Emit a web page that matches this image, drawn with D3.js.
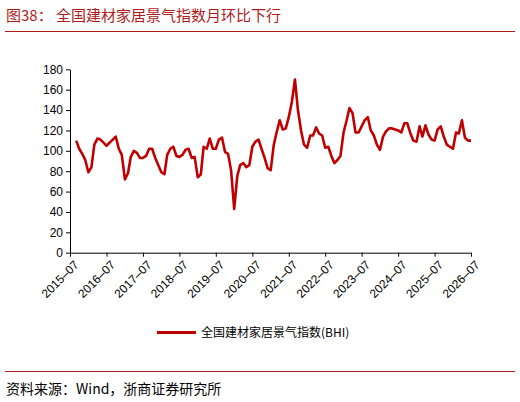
<!DOCTYPE html>
<html>
<head>
<meta charset="utf-8">
<script src="https://cdn.jsdelivr.net/npm/d3@7"></script>
<style>
  body { margin: 0; background: #fff; }
  svg { font-family: "Liberation Sans", Arial, sans-serif; }
</style>
</head>
<body>
<div id="chart"></div>
<script>
// monthly index, 2015-09 .. 2026-07
const startMonth = '2015-09';
const bhiValues = [
  110, 102, 97, 91, 79, 84, 106, 112, 111, 108, 105, 108, 111, 114, 102, 96, 72, 78, 94, 100,
  98, 93, 93, 95, 102, 102, 93, 86, 79, 77, 96, 102, 104, 95, 94, 96, 101, 102, 93, 94,
  74, 77, 104, 102, 112, 102, 102, 111, 113, 99, 97, 81, 43, 75, 86, 88, 84, 86, 104, 109,
  111, 102, 93, 83, 81, 106, 118, 130, 121, 122, 133, 148, 170, 140, 120, 106, 103, 115, 115, 123,
  117, 115, 103, 104, 95, 88, 91, 95, 118, 130, 142, 137, 118, 118, 124, 130, 133, 120, 115, 106,
  101, 114, 119, 122, 122, 121, 120, 118, 127, 127, 117, 110, 109, 124, 114, 125, 116, 111, 110, 121,
  124, 114, 106, 104, 102, 118, 117, 130, 113, 110, 110
];
const yTicks = [0, 20, 40, 60, 80, 100, 120, 140, 160, 180];
const xTickLabels = ['2015-07', '2016-07', '2017-07', '2018-07', '2019-07', '2020-07',
  '2021-07', '2022-07', '2023-07', '2024-07', '2025-07', '2026-07'];
const legendLabel = '全国建材家居景气指数(BHI)';

const parseMonth = d3.timeParse('%Y-%m');
const t0 = parseMonth(startMonth);
const series = bhiValues.map((v, i) => ({ date: d3.timeMonth.offset(t0, i), value: v }));

const svg = d3.select('#chart').append('svg').attr('width', 520).attr('height', 402);
const cjk = '"Noto Sans CJK SC", serif';

// title
svg.append('text').attr('x', 6).attr('y', 21)
  .attr('font-family', cjk).attr('font-size', 15).attr('fill', '#b01c1c')
  .text('图38：  全国建材家居景气指数月环比下行');
svg.append('line').attr('x1', 5).attr('x2', 515).attr('y1', 31.5).attr('y2', 31.5)
  .attr('stroke', '#b01c1c').attr('stroke-width', 1);

const x = d3.scaleTime()
  .domain([parseMonth(xTickLabels[0]), parseMonth(xTickLabels[xTickLabels.length - 1])])
  .range([70, 471]);
const y = d3.scaleLinear().domain([0, 180]).range([252.7, 69.3]);

// y axis
const yAxis = svg.append('g').attr('transform', 'translate(70,0)')
  .call(d3.axisLeft(y).tickValues(yTicks).tickSize(4).tickSizeOuter(0));
yAxis.selectAll('text').attr('font-size', 12).attr('fill', '#000');
yAxis.selectAll('path,line').attr('stroke', '#000');

// x axis
const xAxis = svg.append('g').attr('transform', 'translate(0,252.7)')
  .call(d3.axisBottom(x).tickValues(xTickLabels.map(parseMonth))
    .tickFormat(d3.timeFormat('%Y–%m')).tickSize(4).tickSizeOuter(0));
xAxis.selectAll('path,line').attr('stroke', '#000');
xAxis.selectAll('text').attr('font-size', 12).attr('fill', '#000')
  .attr('text-anchor', 'end').attr('dy', 0)
  .attr('transform', 'translate(4,8) rotate(-45)');

// line
svg.append('path').datum(series)
  .attr('fill', 'none').attr('stroke', '#c00000').attr('stroke-width', 2.6)
  .attr('stroke-linejoin', 'round')
  .attr('d', d3.line().x(d => x(d.date)).y(d => y(d.value)));

// legend
svg.append('line').attr('x1', 157).attr('x2', 196).attr('y1', 332.5).attr('y2', 332.5)
  .attr('stroke', '#c00000').attr('stroke-width', 3);
svg.append('text').attr('x', 201).attr('y', 337)
  .attr('font-family', cjk).attr('font-size', 12).attr('fill', '#000').text(legendLabel);

// source
svg.append('line').attr('x1', 5).attr('x2', 515).attr('y1', 371.5).attr('y2', 371.5)
  .attr('stroke', '#b01c1c').attr('stroke-width', 1);
svg.append('text').attr('x', 6).attr('y', 394)
  .attr('font-family', cjk).attr('font-size', 14).attr('fill', '#000')
  .text('资料来源：Wind，浙商证券研究所');
</script>
</body>
</html>
